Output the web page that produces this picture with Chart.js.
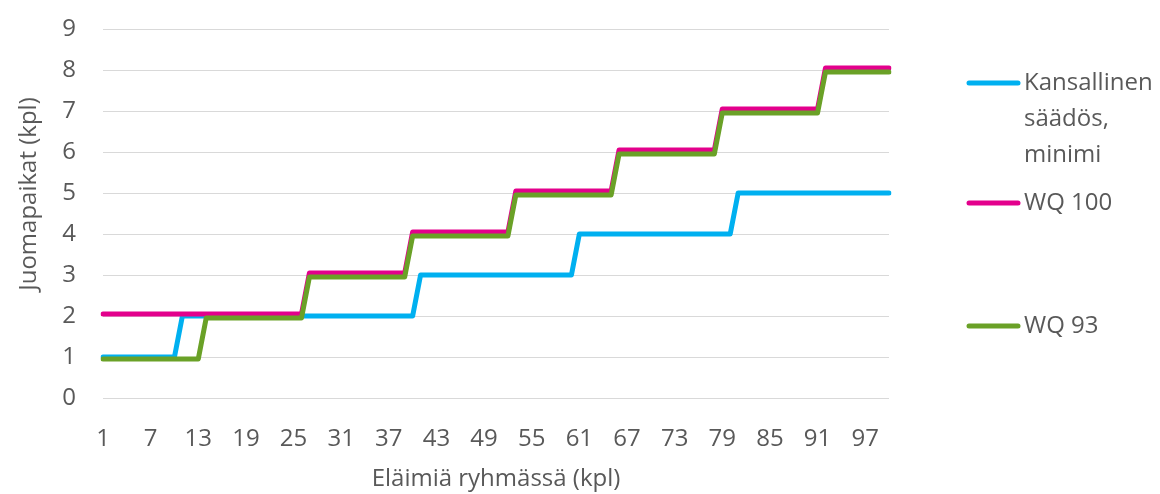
<!DOCTYPE html>
<html>
<head>
<meta charset="utf-8">
<script src="https://cdn.jsdelivr.net/npm/chart.js@4.4.1/dist/chart.umd.min.js"></script>
<style>
  html, body { margin: 0; padding: 0; background: #fff; }
  #wrap { width: 1160px; height: 494px; }
</style>
</head>
<body>
<div id="wrap"><canvas id="waterChart" width="1160" height="494"></canvas></div>
<script>
// Eläimiä ryhmässä (kpl)
const categories = [
  1, 2, 3, 4, 5, 6, 7, 8, 9, 10, 11, 12, 13, 14, 15, 16, 17, 18, 19, 20,
  21, 22, 23, 24, 25, 26, 27, 28, 29, 30, 31, 32, 33, 34, 35, 36, 37, 38, 39, 40,
  41, 42, 43, 44, 45, 46, 47, 48, 49, 50, 51, 52, 53, 54, 55, 56, 57, 58, 59, 60,
  61, 62, 63, 64, 65, 66, 67, 68, 69, 70, 71, 72, 73, 74, 75, 76, 77, 78, 79, 80,
  81, 82, 83, 84, 85, 86, 87, 88, 89, 90, 91, 92, 93, 94, 95, 96, 97, 98, 99, 100
];

const xTickLabels = [1, 7, 13, 19, 25, 31, 37, 43, 49, 55, 61, 67, 73, 79, 85, 91, 97];

const seriesNames = [['Kansallinen', 'säädös,', 'minimi'], ['WQ 100'], ['WQ 93']];

const kansallinen = [
  1, 1, 1, 1, 1, 1, 1, 1, 1, 1, 2, 2, 2, 2, 2, 2, 2, 2, 2, 2,
  2, 2, 2, 2, 2, 2, 2, 2, 2, 2, 2, 2, 2, 2, 2, 2, 2, 2, 2, 2,
  3, 3, 3, 3, 3, 3, 3, 3, 3, 3, 3, 3, 3, 3, 3, 3, 3, 3, 3, 3,
  4, 4, 4, 4, 4, 4, 4, 4, 4, 4, 4, 4, 4, 4, 4, 4, 4, 4, 4, 4,
  5, 5, 5, 5, 5, 5, 5, 5, 5, 5, 5, 5, 5, 5, 5, 5, 5, 5, 5, 5
];

const wq100 = [
  2.05, 2.05, 2.05, 2.05, 2.05, 2.05, 2.05, 2.05, 2.05, 2.05, 2.05, 2.05, 2.05, 2.05, 2.05, 2.05, 2.05, 2.05, 2.05, 2.05,
  2.05, 2.05, 2.05, 2.05, 2.05, 2.05, 3.05, 3.05, 3.05, 3.05, 3.05, 3.05, 3.05, 3.05, 3.05, 3.05, 3.05, 3.05, 3.05, 4.05,
  4.05, 4.05, 4.05, 4.05, 4.05, 4.05, 4.05, 4.05, 4.05, 4.05, 4.05, 4.05, 5.05, 5.05, 5.05, 5.05, 5.05, 5.05, 5.05, 5.05,
  5.05, 5.05, 5.05, 5.05, 5.05, 6.05, 6.05, 6.05, 6.05, 6.05, 6.05, 6.05, 6.05, 6.05, 6.05, 6.05, 6.05, 6.05, 7.05, 7.05,
  7.05, 7.05, 7.05, 7.05, 7.05, 7.05, 7.05, 7.05, 7.05, 7.05, 7.05, 8.05, 8.05, 8.05, 8.05, 8.05, 8.05, 8.05, 8.05, 8.05
];

const wq93 = [
  0.95, 0.95, 0.95, 0.95, 0.95, 0.95, 0.95, 0.95, 0.95, 0.95, 0.95, 0.95, 0.95, 1.95, 1.95, 1.95, 1.95, 1.95, 1.95, 1.95,
  1.95, 1.95, 1.95, 1.95, 1.95, 1.95, 2.95, 2.95, 2.95, 2.95, 2.95, 2.95, 2.95, 2.95, 2.95, 2.95, 2.95, 2.95, 2.95, 3.95,
  3.95, 3.95, 3.95, 3.95, 3.95, 3.95, 3.95, 3.95, 3.95, 3.95, 3.95, 3.95, 4.95, 4.95, 4.95, 4.95, 4.95, 4.95, 4.95, 4.95,
  4.95, 4.95, 4.95, 4.95, 4.95, 5.95, 5.95, 5.95, 5.95, 5.95, 5.95, 5.95, 5.95, 5.95, 5.95, 5.95, 5.95, 5.95, 6.95, 6.95,
  6.95, 6.95, 6.95, 6.95, 6.95, 6.95, 6.95, 6.95, 6.95, 6.95, 6.95, 7.95, 7.95, 7.95, 7.95, 7.95, 7.95, 7.95, 7.95, 7.95
];

const yTitle = 'Juomapaikat (kpl)';
const FONT = '"Open Sans", "Noto Sans", sans-serif';
const TEXT_COLOR = '#595959';

// legend and y title drawn by hand so they sit where the original has them
const sideLegend = {
  id: 'sideLegend',
  afterDraw(chart) {
    const ctx = chart.ctx;
    const rows = [83, 203, 326];
    ctx.save();
    ctx.font = '24px ' + FONT;
    ctx.textBaseline = 'middle';
    ctx.textAlign = 'left';
    chart.data.datasets.forEach((ds, i) => {
      const y = rows[i];
      ctx.strokeStyle = ds.borderColor;
      ctx.lineWidth = 5;
      ctx.lineCap = 'round';
      ctx.beginPath();
      ctx.moveTo(969, y);
      ctx.lineTo(1018, y);
      ctx.stroke();
      ctx.fillStyle = TEXT_COLOR;
      seriesNames[i].forEach((line, j) => {
        ctx.fillText(line, 1024, y + j * 36);
      });
    });

    ctx.translate(29, 194);
    ctx.rotate(-Math.PI / 2);
    ctx.textAlign = 'center';
    ctx.fillText(yTitle, 0, 0);
    ctx.restore();
  }
};

const lineStyle = {
  borderWidth: 5,
  pointRadius: 0,
  tension: 0,
  fill: false,
  borderCapStyle: 'round',
  borderJoinStyle: 'round'
};

new Chart(document.getElementById('waterChart').getContext('2d'), {
  type: 'line',
  data: {
    labels: categories,
    datasets: [
      Object.assign({ label: seriesNames[0].join(' '), data: kansallinen, borderColor: '#00B0F0', order: 3 }, lineStyle),
      Object.assign({ label: seriesNames[1].join(' '), data: wq100, borderColor: '#E3008C', order: 2 }, lineStyle),
      Object.assign({ label: seriesNames[2].join(' '), data: wq93, borderColor: '#6AA127', order: 1 }, lineStyle)
    ]
  },
  options: {
    responsive: false,
    devicePixelRatio: 1,
    animation: false,
    layout: { padding: { left: 10, right: 271, top: 29, bottom: 0 } },
    plugins: {
      legend: { display: false },
      tooltip: { enabled: false }
    },
    scales: {
      x: {
        offset: false,
        grid: { display: false, drawTicks: false },
        border: { display: false },
        ticks: {
          autoSkip: false,
          maxRotation: 0,
          padding: 27,
          color: TEXT_COLOR,
          font: { family: FONT, size: 24 },
          callback: function (value) {
            const cat = categories[value];
            return xTickLabels.includes(cat) ? String(cat) : '';
          }
        },
        title: {
          display: true,
          text: 'Eläimiä ryhmässä (kpl)',
          color: TEXT_COLOR,
          font: { family: FONT, size: 24 },
          padding: { top: 0, bottom: 0 }
        },
        afterFit(scale) { scale.height = 96; }
      },
      y: {
        min: 0,
        max: 9,
        grid: { color: '#D9D9D9', lineWidth: 1, drawTicks: false },
        border: { display: false },
        ticks: {
          stepSize: 1,
          padding: 27,
          color: TEXT_COLOR,
          font: { family: FONT, size: 24 }
        },
        afterFit(scale) {
          scale.width = 93;
          scale.paddingTop = 0;
          scale.paddingBottom = 0;
        }
      }
    }
  },
  plugins: [sideLegend]
});
</script>
</body>
</html>
